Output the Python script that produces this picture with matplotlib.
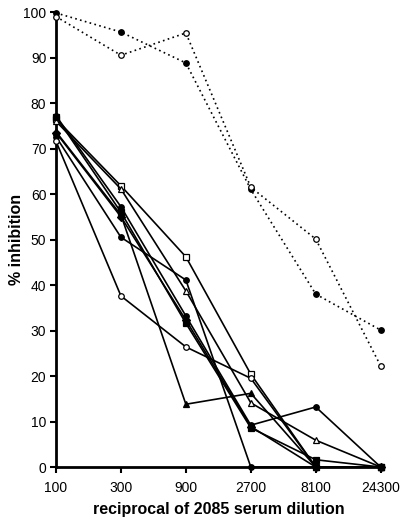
"""Percent inhibition versus reciprocal serum dilution (2085 serum)."""
import matplotlib
matplotlib.use("Agg")
import matplotlib.pyplot as plt

plt.rcParams["font.family"] = ["Liberation Sans", "DejaVu Sans"]

dilutions = ["100", "300", "900", "2700", "8100", "24300"]

# solid series
open_square = [76.5, 61.8, 46.2, 20.4, 0.0, 0.0]
open_triangle = [76.0, 61.1, 38.7, 14.1, 5.9, 0.0]
filled_circle_b = [72.6, 50.5, 41.1, 0.0, 0.0, 0.0]
open_circle = [71.6, 37.6, 26.4, 19.5, 0.0, 0.0]
filled_triangle = [73.7, 55.4, 13.8, 16.2, 0.0, 0.0]
filled_circle_a = [77.2, 57.2, 33.2, 9.2, 13.2, 0.0]
filled_square = [77.0, 56.0, 31.6, 8.6, 1.6, 0.0]
filled_diamond = [73.5, 55.0, 32.3, 8.9, 0.0, 0.0]

# dotted series
dotted_filled = [99.8, 95.6, 88.8, 61.0, 38.0, 30.1]
dotted_open = [99.0, 90.5, 95.4, 61.5, 50.1, 22.2]

solid = [
    (open_square, "s", "white"),
    (open_triangle, "^", "white"),
    (filled_circle_b, "o", "black"),
    (open_circle, "o", "white"),
    (filled_triangle, "^", "black"),
    (filled_circle_a, "o", "black"),
    (filled_square, "s", "black"),
    (filled_diamond, "D", "black"),
]
dotted = [
    (dotted_filled, "o", "black"),
    (dotted_open, "o", "white"),
]

fig = plt.figure(figsize=(4.0, 5.23), dpi=100)
ax = fig.add_axes([0.14, 0.107, 0.815, 0.870])
x = list(range(len(dilutions)))

for vals, mk, fc in solid:
    ax.plot(x, vals, color="black", lw=1.2, marker=mk, ms=4,
            mfc=fc, mec="black", mew=0.9, clip_on=False, zorder=3)
for vals, mk, fc in dotted:
    ax.plot(x, vals, color="black", lw=1.2, ls=(0, (1, 2)), marker=mk, ms=4,
            mfc=fc, mec="black", mew=0.9, clip_on=False, zorder=3)

ax.set_xlim(0, 5.02)
ax.set_ylim(0, 100)
ax.set_xticks(x)
ax.set_xticklabels(dilutions, fontsize=10)
ax.set_yticks(range(0, 101, 10))
ax.tick_params(axis="y", labelsize=10, length=4, width=1.5, direction="out", pad=3)
ax.tick_params(axis="x", length=4, width=1.5, direction="out", pad=6)
for side in ("top", "right"):
    ax.spines[side].set_visible(False)
for side in ("left", "bottom"):
    ax.spines[side].set_linewidth(2)

ax.set_xlabel("reciprocal of 2085 serum dilution", fontsize=11.5,
              fontweight="bold", labelpad=5)
ax.set_ylabel("% inhibition", fontsize=11.5, fontweight="bold")
ax.yaxis.set_label_coords(-0.098, 0.5)

fig.savefig("out.png", dpi=100)
plt.close(fig)
